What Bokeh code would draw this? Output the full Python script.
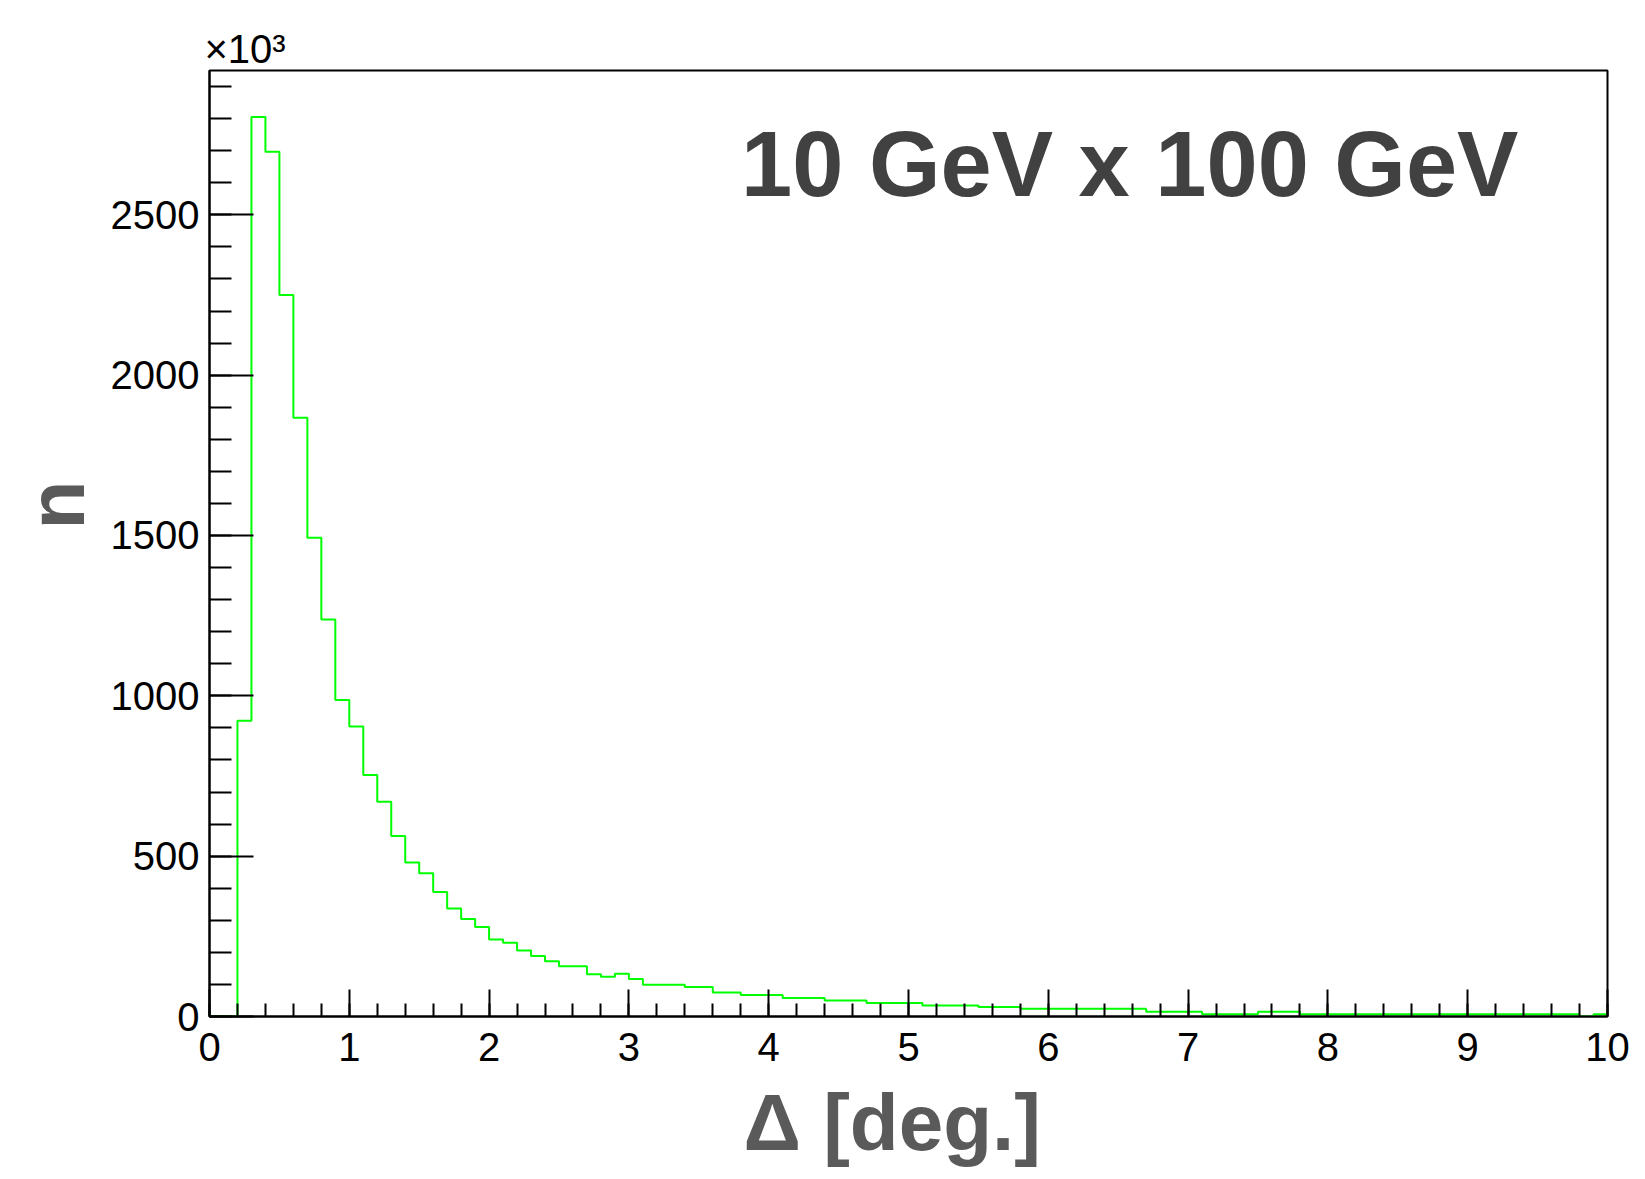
import numpy as np
from bokeh.plotting import figure
from bokeh.models import Range1d, SingleIntervalTicker, Label, Title
from bokeh.embed import file_html
from bokeh.resources import INLINE

# ---- data (units of 10^3 entries), 100 bins of width 0.1 deg from 0 to 10 ----
x_min = 0.0
x_max = 10.0
n_bins = 100
counts = [
    0, 0, 922, 2805, 2697, 2250, 1867, 1493, 1238, 987,
    904, 753, 670, 563, 480, 447, 388, 337, 304, 279,
    240, 230, 206, 189, 172, 157, 157, 132, 124, 133,
    117, 99, 99, 99, 92, 92, 75, 75, 67, 67,
    67, 58, 58, 58, 50, 50, 50, 42, 42, 42,
    42, 34, 34, 34, 34, 30, 30, 30, 24, 24,
    24, 24, 24, 24, 24, 24, 24, 15, 15, 15,
    15, 7, 7, 7, 7, 15, 15, 15, 7, 7,
    7, 7, 7, 7, 7, 7, 7, 7, 7, 7,
    7, 7, 7, 7, 7, 7, 7, 7, 0, 7,
]
y_max = 2950
title_text = "10 GeV x 100 GeV"
x_title = "Δ [deg.]"
y_title = "n"
y_multiplier = "×10³"

edges = np.linspace(x_min, x_max, n_bins + 1)
step_y = counts + [counts[-1]]

FONT = "Liberation Sans"

p = figure(width=1637, height=1179,
           x_range=Range1d(x_min, x_max), y_range=Range1d(0, y_max),
           output_backend="svg", toolbar_location=None,
           min_border_left=209, min_border_right=30,
           min_border_top=70, min_border_bottom=162,
           background_fill_color="white", border_fill_color="white")

p.xgrid.visible = False
p.ygrid.visible = False
p.outline_line_color = "black"
p.outline_line_width = 2
p.outline_line_alpha = 1.0

p.step(x=edges, y=step_y, mode="after", line_color="#00ff00", line_width=2)

# axes
p.xaxis.ticker = SingleIntervalTicker(interval=1, num_minor_ticks=5)
p.yaxis.ticker = SingleIntervalTicker(interval=500, num_minor_ticks=5)
for ax in (p.xaxis[0], p.yaxis[0]):
    ax.axis_line_color = "black"
    ax.axis_line_width = 2
    ax.major_tick_line_color = "black"
    ax.minor_tick_line_color = "black"
    ax.major_tick_line_width = 2
    ax.minor_tick_line_width = 2
    ax.major_tick_out = 0
    ax.minor_tick_out = 0
    ax.major_label_text_font = FONT
    ax.major_label_text_font_size = "40px"
    ax.major_label_text_color = "black"
p.xaxis.major_tick_in = 27
p.xaxis.minor_tick_in = 13
p.xaxis.major_label_standoff = 16
p.yaxis.major_tick_in = 44
p.yaxis.minor_tick_in = 22
p.yaxis.major_label_standoff = 10

# x-axis title below the axis
p.add_layout(Title(text=x_title, align="left", offset=534,
                   text_font=FONT, text_font_style="bold",
                   text_font_size="80px", text_color="#5a5a5a",
                   standoff=25), "below")

# y-axis title, placed on the left side
p.add_layout(Title(text=y_title, align="left", offset=487,
                   text_font=FONT, text_font_style="bold",
                   text_font_size="80px", text_color="#5a5a5a",
                   standoff=14), "left")

# multiplier above the frame
p.add_layout(Title(text=y_multiplier, align="left", offset=-5,
                   text_font=FONT, text_font_style="normal",
                   text_font_size="40px", text_color="black",
                   standoff=0), "above")

# energy label inside the frame
p.add_layout(Label(x=9.363, y=2657, text=title_text, text_align="right",
                   text_baseline="alphabetic", text_font=FONT,
                   text_font_style="bold", text_font_size="92px",
                   text_color="#414141"))

open("out.html", "w").write(file_html(p, INLINE))
